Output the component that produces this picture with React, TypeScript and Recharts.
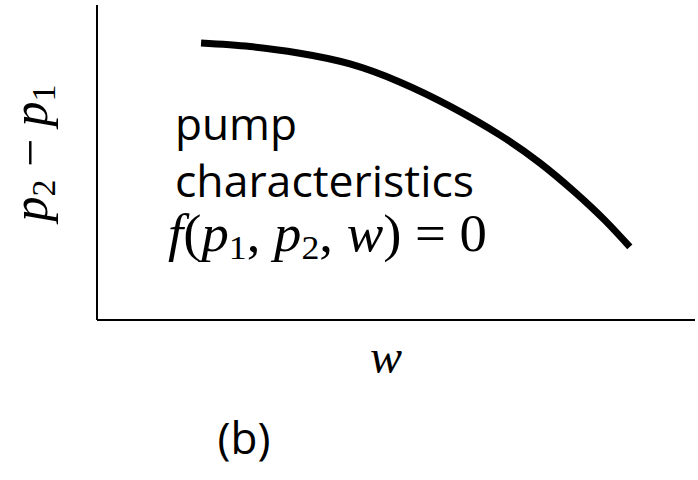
import { LineChart, Line, XAxis, YAxis } from 'recharts'

// pump curve: flow w against pressure rise p2 - p1 (arbitrary units, 0..100)
const flow = [17.4, 25.6, 33.9, 42.3, 50.7, 59.0, 67.4, 74.1, 79.9, 84.9, 89.1]
const head = [87.9, 86.8, 84.7, 81.3, 75.5, 67.9, 58.7, 49.8, 40.6, 31.7, 23.2]
const noteLines = ['pump', 'characteristics']
const caption = '(b)'

const data = flow.map((w, i) => ({ w, dp: head[i] }))

const sans = '"Open Sans", "Noto Sans", sans-serif'
const math = '"Liberation Serif", "DejaVu Serif", serif'

function YTitle() {
  return (
    <text
      transform="translate(47,153) rotate(-90)"
      textAnchor="middle"
      fontFamily={math}
      fontSize={50}
      fill="#000"
    >
      <tspan fontStyle="italic">p</tspan>
      <tspan fontSize={34} dy={8}>2</tspan>
      <tspan dy={-8}> − </tspan>
      <tspan fontStyle="italic">p</tspan>
      <tspan fontSize={34} dy={8}>1</tspan>
    </text>
  )
}

function Note() {
  return (
    <g fill="#000">
      <text x={175} y={140} fontFamily={sans} fontSize={44} textLength={122} lengthAdjust="spacingAndGlyphs">
        {noteLines[0]}
      </text>
      <text x={175} y={197} fontFamily={sans} fontSize={44} textLength={299} lengthAdjust="spacingAndGlyphs">
        {noteLines[1]}
      </text>
      <text x={168} y={251} fontFamily={math} fontSize={52} textLength={319} lengthAdjust="spacingAndGlyphs">
        <tspan fontStyle="italic">f</tspan>
        <tspan>(</tspan>
        <tspan fontStyle="italic">p</tspan>
        <tspan fontSize={34} dy={8}>1</tspan>
        <tspan dy={-8}>, </tspan>
        <tspan fontStyle="italic">p</tspan>
        <tspan fontSize={34} dy={8}>2</tspan>
        <tspan dy={-8}>, </tspan>
        <tspan fontStyle="italic">w</tspan>
        <tspan>) = 0</tspan>
      </text>
    </g>
  )
}

export default function App() {
  return (
    <div style={{ position: 'absolute', left: 0, top: 0, width: 698, height: 480, background: '#fff' }}>
      <LineChart width={698} height={480} data={data} margin={{ top: 5, right: 3, left: 37, bottom: 130 }}>
        <XAxis
          dataKey="w"
          type="number"
          domain={[0, 100]}
          height={30}
          tick={false}
          tickLine={false}
          axisLine={{ stroke: '#000', strokeWidth: 2 }}
        />
        <YAxis
          type="number"
          domain={[0, 100]}
          width={60}
          tick={false}
          tickLine={false}
          axisLine={{ stroke: '#000', strokeWidth: 2 }}
        />
        <Line
          type="natural"
          dataKey="dp"
          stroke="#000"
          strokeWidth={7}
          dot={false}
          isAnimationActive={false}
        />
        <YTitle />
        <Note />
        <text x={386} y={373} textAnchor="middle" fontFamily={math} fontStyle="italic" fontSize={48} fill="#000">
          w
        </text>
        <text x={244} y={454} textAnchor="middle" fontFamily={sans} fontSize={44} fill="#000">
          {caption}
        </text>
      </LineChart>
    </div>
  )
}
